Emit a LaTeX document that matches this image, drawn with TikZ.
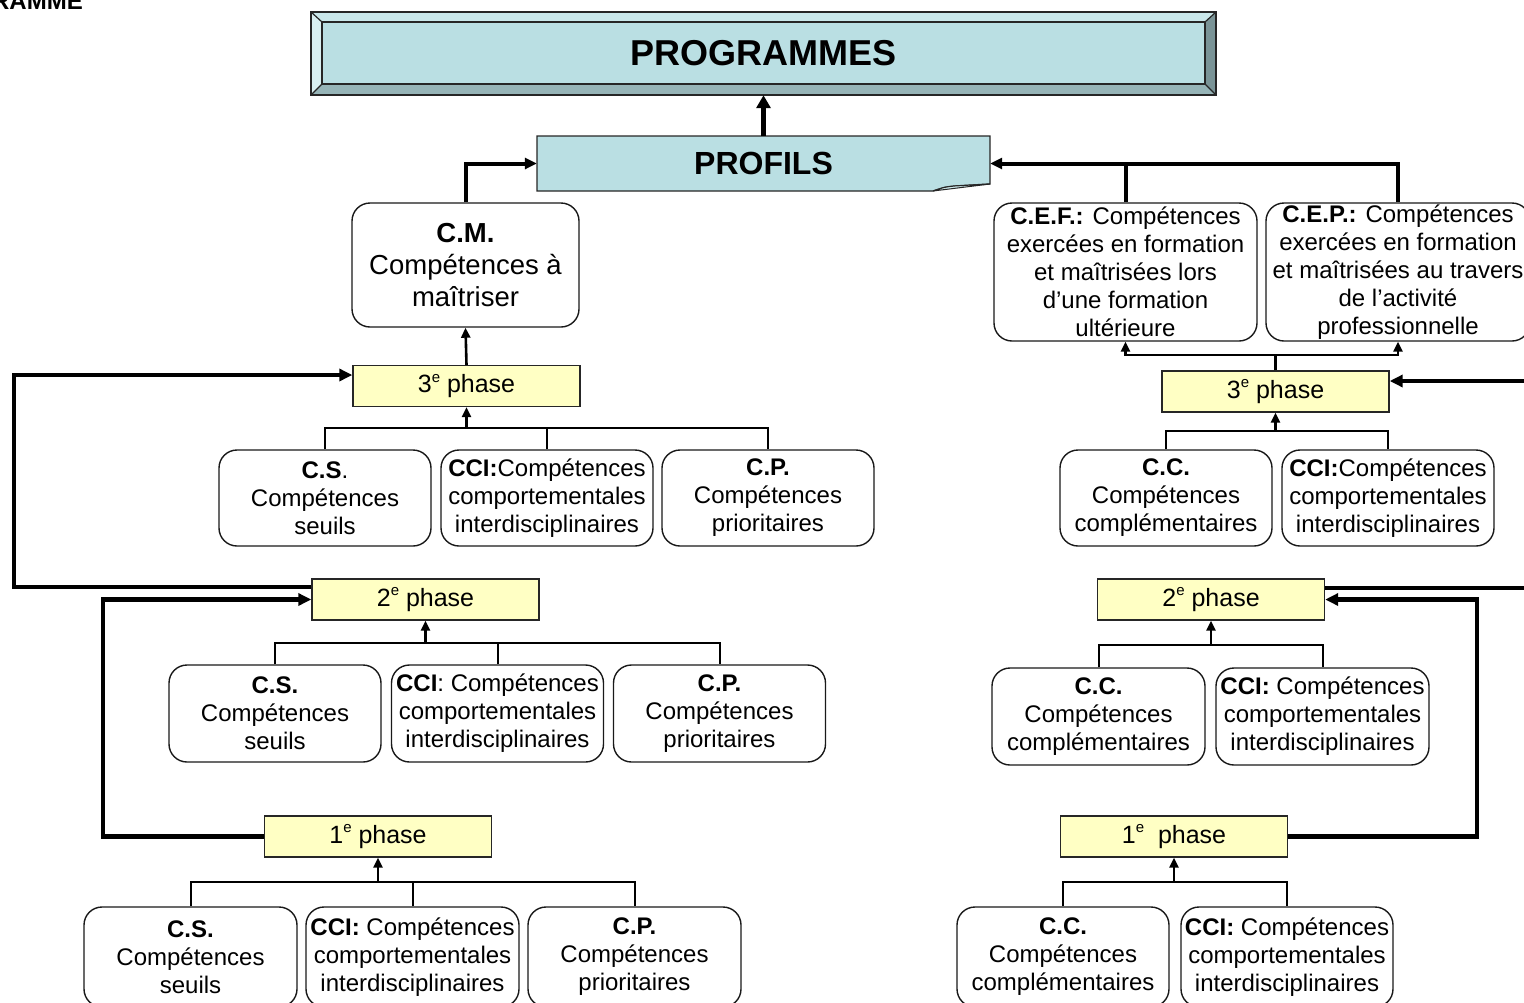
\documentclass[tikz,border=0pt]{standalone}
\usepackage{fontspec}
\setmainfont{Liberation Sans}
\usetikzlibrary{arrows.meta,calc}
\definecolor{progfill}{HTML}{BADFE3}
\definecolor{progtop}{HTML}{C9E7EA}
\definecolor{progleft}{HTML}{D8EFF1}
\definecolor{progbot}{HTML}{96B4B7}
\definecolor{progright}{HTML}{7A9497}
\definecolor{foldcol}{HTML}{D2ECEF}
\definecolor{phfill}{HTML}{FFFFC4}
\newcommand\mysupe{\raisebox{0.42em}{\fontsize{15}{15}\selectfont e}}
\begin{document}
\begin{tikzpicture}[x=1pt,y=-1pt,
 cbox/.style={draw=black!90,line width=1.4pt,rounded corners=18pt,fill=white,align=center,inner sep=0pt,font=\fontsize{24}{28}\selectfont},
 phbox/.style={draw=black!85,line width=1.4pt,fill=phfill,inner sep=0pt,minimum width=227pt,minimum height=41pt,font=\fontsize{25}{28}\selectfont},
 bus/.style={line width=2pt},
 busarrow/.style={line width=2.6pt,-{Triangle[length=10pt,width=9pt]}},
 loopline/.style={line width=4.5pt},
 looparrow/.style={line width=4.5pt,-{Triangle[length=13pt,width=12pt]}},
 toparrow/.style={line width=4pt,-{Triangle[length=12pt,width=11pt]}},
]
\useasboundingbox (0,0) rectangle (1524,1002);

% corner text
\node[anchor=base east,font=\fontsize{24}{28}\selectfont\bfseries,inner sep=0pt] (corner) at (83,9) {RAMME};

% PROGRAMMES bevel box
\fill[progtop] (311,12) -- (1216,12) -- (1205,22) -- (322,22) -- cycle;
\fill[progleft] (311,12) -- (322,22) -- (322,84) -- (311,95) -- cycle;
\fill[progbot] (311,95) -- (322,84) -- (1205,84) -- (1216,95) -- cycle;
\fill[progright] (1216,12) -- (1205,22) -- (1205,84) -- (1216,95) -- cycle;
\fill[progfill] (322,22) rectangle (1205,84);
\draw[black!85,line width=1.4pt] (311,12) rectangle (1216,95);
\draw[black!85,line width=1.4pt] (322,22) rectangle (1205,84);
\draw[black!85,line width=1.2pt] (311,12) -- (322,22) (1216,12) -- (1205,22) (311,95) -- (322,84) (1216,95) -- (1205,84);
\node[minimum width=905pt,minimum height=83pt,inner sep=0pt,font=\fontsize{36}{40}\selectfont\bfseries] (prog) at (763.5,53.5) {PROGRAMMES};

% PROFILS folded box
\filldraw[fill=progfill,draw=black!85,line width=1.4pt] (537,136) -- (990,136) -- (990,184) -- (955,186) .. controls (945,187) .. (933,191) -- (537,191) -- cycle;
\filldraw[fill=foldcol,draw=black!85,line width=1pt] (933,191) .. controls (945,187) .. (955,186) -- (990,184) -- cycle;
\node[minimum width=453pt,minimum height=55pt,inner sep=0pt,font=\fontsize{32}{36}\selectfont\bfseries] (prof) at (763.5,163.5) {PROFILS};

% upper boxes
\node[cbox,minimum width=227pt,minimum height=124pt,font=\fontsize{27.5}{32}\selectfont] (cm) at (465.5,265) {\textbf{C.M.}\\Compétences à\\maîtriser};
\node[cbox,minimum width=263pt,minimum height=138pt] (cef) at (1125.5,272) {\textbf{C.E.F.:} Compétences\\exercées en formation\\et maîtrisées lors\\d’une formation\\ultérieure};
\node[cbox,minimum width=264pt,minimum height=138pt] (cep) at (1398,272) {\textbf{C.E.P.:} Compétences\\exercées en formation\\et maîtrisées au travers\\de l’activité\\professionnelle};

% phase boxes
\node[phbox] (ph3L) at (466.5,386) {3\mysupe\ phase};
\node[phbox] (ph2L) at (425.5,599.5) {2\mysupe\ phase};
\node[phbox] (ph1L) at (378,836.5) {1\mysupe\ phase};
\node[phbox] (ph3R) at (1275.5,391.5) {3\mysupe\ phase};
\node[phbox] (ph2R) at (1211,599.5) {2\mysupe\ phase};
\node[phbox] (ph1R) at (1174,836.5) {1\mysupe\ \ phase};

% left 3rd phase children
\node[cbox,minimum width=212pt,minimum height=96pt] (l3a) at (325,498) {\textbf{C.S}.\\Compétences\\seuils};
\node[cbox,minimum width=212pt,minimum height=96pt] (l3b) at (547,498) {\textbf{CCI:}Compétences\\comportementales\\interdisciplinaires};
\node[cbox,minimum width=212pt,minimum height=96pt] (l3c) at (768,498) {\textbf{C.P.}\\Compétences\\prioritaires};
% left 2nd phase children
\node[cbox,minimum width=212pt,minimum height=97pt] (l2a) at (275,713.5) {\textbf{C.S.}\\Compétences\\seuils};
\node[cbox,minimum width=212pt,minimum height=97pt] (l2b) at (497.5,713.5) {\textbf{CCI}: Compétences\\comportementales\\interdisciplinaires};
\node[cbox,minimum width=212pt,minimum height=97pt] (l2c) at (719.5,713.5) {\textbf{C.P.}\\Compétences\\prioritaires};
% left 1st phase children
\node[cbox,minimum width=213pt,minimum height=100pt] (l1a) at (190.5,957) {\textbf{C.S.}\\Compétences\\seuils};
\node[cbox,minimum width=213pt,minimum height=100pt] (l1b) at (412.5,957) {\textbf{CCI:} Compétences\\comportementales\\interdisciplinaires};
\node[cbox,minimum width=213pt,minimum height=100pt] (l1c) at (634.5,957) {\textbf{C.P.}\\Compétences\\prioritaires};
% right 3rd phase children
\node[cbox,minimum width=212pt,minimum height=96pt] (r3a) at (1166,498) {\textbf{C.C.}\\Compétences\\complémentaires};
\node[cbox,minimum width=212pt,minimum height=96pt] (r3b) at (1388,498) {\textbf{CCI:}Compétences\\comportementales\\interdisciplinaires};
% right 2nd phase children
\node[cbox,minimum width=213pt,minimum height=97pt] (r2a) at (1098.5,716.5) {\textbf{C.C.}\\Compétences\\complémentaires};
\node[cbox,minimum width=213pt,minimum height=97pt] (r2b) at (1322.5,716.5) {\textbf{CCI:} Compétences\\comportementales\\interdisciplinaires};
% right 1st phase children
\node[cbox,minimum width=212pt,minimum height=100pt] (r1a) at (1063,957) {\textbf{C.C.}\\Compétences\\complémentaires};
\node[cbox,minimum width=212pt,minimum height=100pt] (r1b) at (1287,957) {\textbf{CCI:} Compétences\\comportementales\\interdisciplinaires};

% top connectors
\draw[line width=5pt,-{Triangle[length=13pt,width=14pt]}] (prof.north) -- (prog.south);
\draw[toparrow] (cm.north) |- (prof.west);
\draw[toparrow] (cep.north) |- (prof.east);
\draw[line width=4pt] (cef.north) -- (cef.north |- prof.east);
\draw[busarrow] (ph3L.north) -- (cm.south);
\coordinate (bT) at (1275.5,355);
\draw[line width=2.6pt] (ph3R.north) -- (bT);
\draw[busarrow] (bT) -| (cef.south);
\draw[busarrow] (bT) -| (cep.south);

% tree buses
\coordinate (bL3) at (466.5,428);
\draw[bus] (l3a.north) |- (bL3) -| (l3c.north);
\draw[bus] (l3b.north) -- (l3b.north |- bL3);
\draw[busarrow] (bL3) -- (ph3L.south);

\coordinate (bL2) at (425.5,643);
\draw[bus] (l2a.north) |- (bL2) -| (l2c.north);
\draw[bus] (l2b.north) -- (l2b.north |- bL2);
\draw[busarrow] (bL2) -- (ph2L.south);

\coordinate (bL1) at (378,882);
\draw[bus] (l1a.north) |- (bL1) -| (l1c.north);
\draw[bus] (l1b.north) -- (l1b.north |- bL1);
\draw[busarrow] (bL1) -- (ph1L.south);

\coordinate (bR3) at (1275.5,431);
\draw[bus] (r3a.north) |- (bR3) -| (r3b.north);
\draw[busarrow] (bR3) -- (ph3R.south);

\coordinate (bR2) at (1211,645);
\draw[bus] (r2a.north) |- (bR2) -| (r2b.north);
\draw[busarrow] (bR2) -- (ph2R.south);

\coordinate (bR1) at (1174,882);
\draw[bus] (r1a.north) |- (bR1) -| (r1b.north);
\draw[busarrow] (bR1) -- (ph1R.south);

% feedback loops left
\coordinate (out2L) at ([yshift=12.5pt]ph2L.west);
\coordinate (in3L) at ([yshift=11pt]ph3L.west);
\coordinate (xL1) at (14,0);
\draw[looparrow] (out2L) -| (xL1 |- in3L) -- (in3L);
\coordinate (xL2) at (103,0);
\draw[looparrow] (ph1L.west) -| (xL2 |- ph2L.west) -- (ph2L.west);

% feedback loops right
\coordinate (edgeA) at (1530,588);
\coordinate (edgeB) at (1530,381);
\draw[loopline] ([yshift=11.5pt]ph2R.east) -- (edgeA);
\draw[looparrow] (edgeB) -- ([yshift=10.5pt]ph3R.east);
\coordinate (xR) at (1477,0);
\draw[looparrow] (ph1R.east) -| (xR |- ph2R.east) -- (ph2R.east);

\end{tikzpicture}
\end{document}
